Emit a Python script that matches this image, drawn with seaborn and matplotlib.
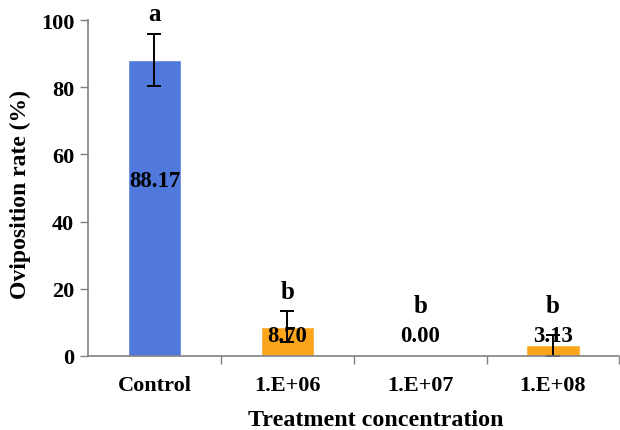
import numpy as np
import seaborn as sns
import matplotlib.pyplot as plt
from matplotlib.ticker import FixedLocator

treatments = ["Control", "1.E+06", "1.E+07", "1.E+08"]
rates = [88.17, 8.70, 0.00, 3.13]
errors = [7.7, 4.6, 0.0, 3.13]
letters = ["a", "b", "b", "b"]
colors = ["#5079DB", "#FBA51C", "#FBA51C", "#FBA51C"]

sns.set_style("white")
plt.rcParams["font.family"] = ["Liberation Serif", "DejaVu Serif"]
plt.rcParams["font.weight"] = "bold"
plt.rcParams["text.color"] = "black"
plt.rcParams["axes.labelcolor"] = "black"
plt.rcParams["xtick.labelcolor"] = "black"
plt.rcParams["ytick.labelcolor"] = "black"

fig = plt.figure(figsize=(6.2, 4.31), dpi=100)
ax = fig.add_axes([0.142, 0.172, 0.857, 0.779])

sns.barplot(x=treatments, y=rates, hue=treatments, palette=colors,
            legend=False, width=0.4, errorbar=None, saturation=1, ax=ax)

x = np.arange(len(treatments))
mask = np.array(errors) > 0
ax.errorbar(x[mask], np.array(rates)[mask], yerr=np.array(errors)[mask],
            fmt="none", ecolor="black", elinewidth=1.4, capsize=5, capthick=1.4)

for i, (r, e, l) in enumerate(zip(rates, errors, letters)):
    label_y = r / 2 + 8 if r > 40 else 6.2
    ax.text(i, label_y, f"{r:.2f}", ha="center", va="center",
            fontsize=16.5, fontweight="bold", color="black")
    top = r + e if r + e > 8 else 9
    ax.text(i, top + 6, l, ha="center", va="center",
            fontsize=18, fontweight="bold", color="black")

ax.set_xlim(-0.5, 3.5)
ax.set_ylim(0, 100)
ax.set_yticks([0, 20, 40, 60, 80, 100])
ax.xaxis.set_minor_locator(FixedLocator([0.5, 1.5, 2.5, 3.5]))
ax.tick_params(axis="x", which="major", length=0, pad=14, labelsize=16)
ax.tick_params(axis="x", which="minor", length=6, width=1, color="#808080",
               direction="out", bottom=True)
ax.tick_params(axis="y", length=6, width=1, color="#808080",
               direction="out", left=True, labelsize=16, pad=4)

for side in ["top", "right"]:
    ax.spines[side].set_visible(False)
for side in ["left", "bottom"]:
    ax.spines[side].set_color("#808080")
    ax.spines[side].set_linewidth(1.2)

ax.set_xlabel("Treatment concentration", fontsize=17.3, fontweight="bold")
ax.xaxis.set_label_coords(0.541, -0.158)
ax.set_ylabel("Oviposition rate (%)", fontsize=17, fontweight="bold")
ax.yaxis.set_label_coords(-0.108, 0.485)
for t in ax.get_xticklabels() + ax.get_yticklabels():
    t.set_fontweight("bold")

fig.savefig("out.png", dpi=100)
